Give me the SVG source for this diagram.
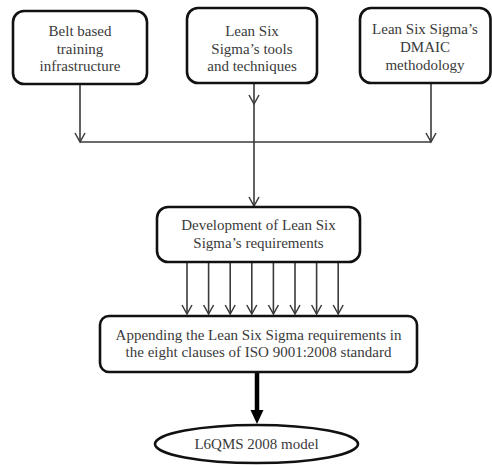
<svg xmlns="http://www.w3.org/2000/svg" width="492" height="465" viewBox="0 0 492 465">
  <style>
    .box { fill: #ffffff; stroke: #111111; stroke-width: 2.6; }
    .txt { font-family: "Liberation Serif", "DejaVu Serif", serif; font-size: 15px; fill: #3a3a3a; text-anchor: middle; }
    .wire { fill: none; stroke: #3a3a3a; stroke-width: 1.6; }
    .thick { fill: none; stroke: #000000; stroke-width: 4.5; }
  </style>
  <defs>
    <marker id="open" markerUnits="userSpaceOnUse" markerWidth="14" markerHeight="14" refX="10" refY="7" orient="auto">
      <path d="M1,2 L10,7 L1,12" fill="none" stroke="#3a3a3a" stroke-width="1.5"/>
    </marker>
  </defs>
  <rect width="492" height="465" fill="#ffffff"/>

  <g id="connectors">
    <!-- inputs merging onto the bus -->
    <path class="wire" d="M80,84 V142" marker-end="url(#open)"/>
    <path class="wire" d="M431,83 V142" marker-end="url(#open)"/>
    <path class="wire" d="M80,142 H431"/>
    <path class="wire" d="M254,83 V104" marker-end="url(#open)"/>
    <path class="wire" d="M254,104 V206" marker-end="url(#open)"/>
    <!-- eight requirement arrows -->
    <path class="wire" d="M187,262 V314" marker-end="url(#open)"/>
    <path class="wire" d="M208.6,262 V314" marker-end="url(#open)"/>
    <path class="wire" d="M230.2,262 V314" marker-end="url(#open)"/>
    <path class="wire" d="M251.8,262 V314" marker-end="url(#open)"/>
    <path class="wire" d="M273.4,262 V314" marker-end="url(#open)"/>
    <path class="wire" d="M295,262 V314" marker-end="url(#open)"/>
    <path class="wire" d="M316.6,262 V314" marker-end="url(#open)"/>
    <path class="wire" d="M338.2,262 V314" marker-end="url(#open)"/>
    <!-- heavy arrow to the model -->
    <path class="thick" d="M257,373 V412"/>
    <path d="M250.5,410 L263.5,410 L257,424 Z" fill="#000000"/>
  </g>

  <g id="belt-training">
    <rect class="box" x="13" y="11" width="134" height="73" rx="11"/>
    <text class="txt" x="80" y="36">Belt based</text>
    <text class="txt" x="80" y="53.5">training</text>
    <text class="txt" x="80" y="71">infrastructure</text>
  </g>

  <g id="tools-techniques">
    <rect class="box" x="187" y="8" width="130" height="75" rx="11"/>
    <text class="txt" x="252" y="36">Lean Six</text>
    <text class="txt" x="252" y="53.5">Sigma’s tools</text>
    <text class="txt" x="252" y="71">and techniques</text>
  </g>

  <g id="dmaic">
    <rect class="box" x="360" y="8" width="130.5" height="75" rx="11"/>
    <text class="txt" x="425" y="34">Lean Six Sigma’s</text>
    <text class="txt" x="425" y="52">DMAIC</text>
    <text class="txt" x="425" y="70">methodology</text>
  </g>

  <g id="development">
    <rect class="box" x="157" y="207" width="203" height="55" rx="11"/>
    <text class="txt" x="258.5" y="230">Development of Lean Six</text>
    <text class="txt" x="258.5" y="248">Sigma’s requirements</text>
  </g>

  <g id="appending">
    <rect class="box" x="100" y="316" width="317" height="56" rx="9"/>
    <text class="txt" x="258.5" y="340">Appending the Lean Six Sigma requirements in</text>
    <text class="txt" x="258.5" y="357">the eight clauses of ISO 9001:2008 standard</text>
  </g>

  <g id="model">
    <ellipse class="box" cx="256.5" cy="444" rx="101.5" ry="19"/>
    <text class="txt" x="256.5" y="449">L6QMS 2008 model</text>
  </g>
</svg>
